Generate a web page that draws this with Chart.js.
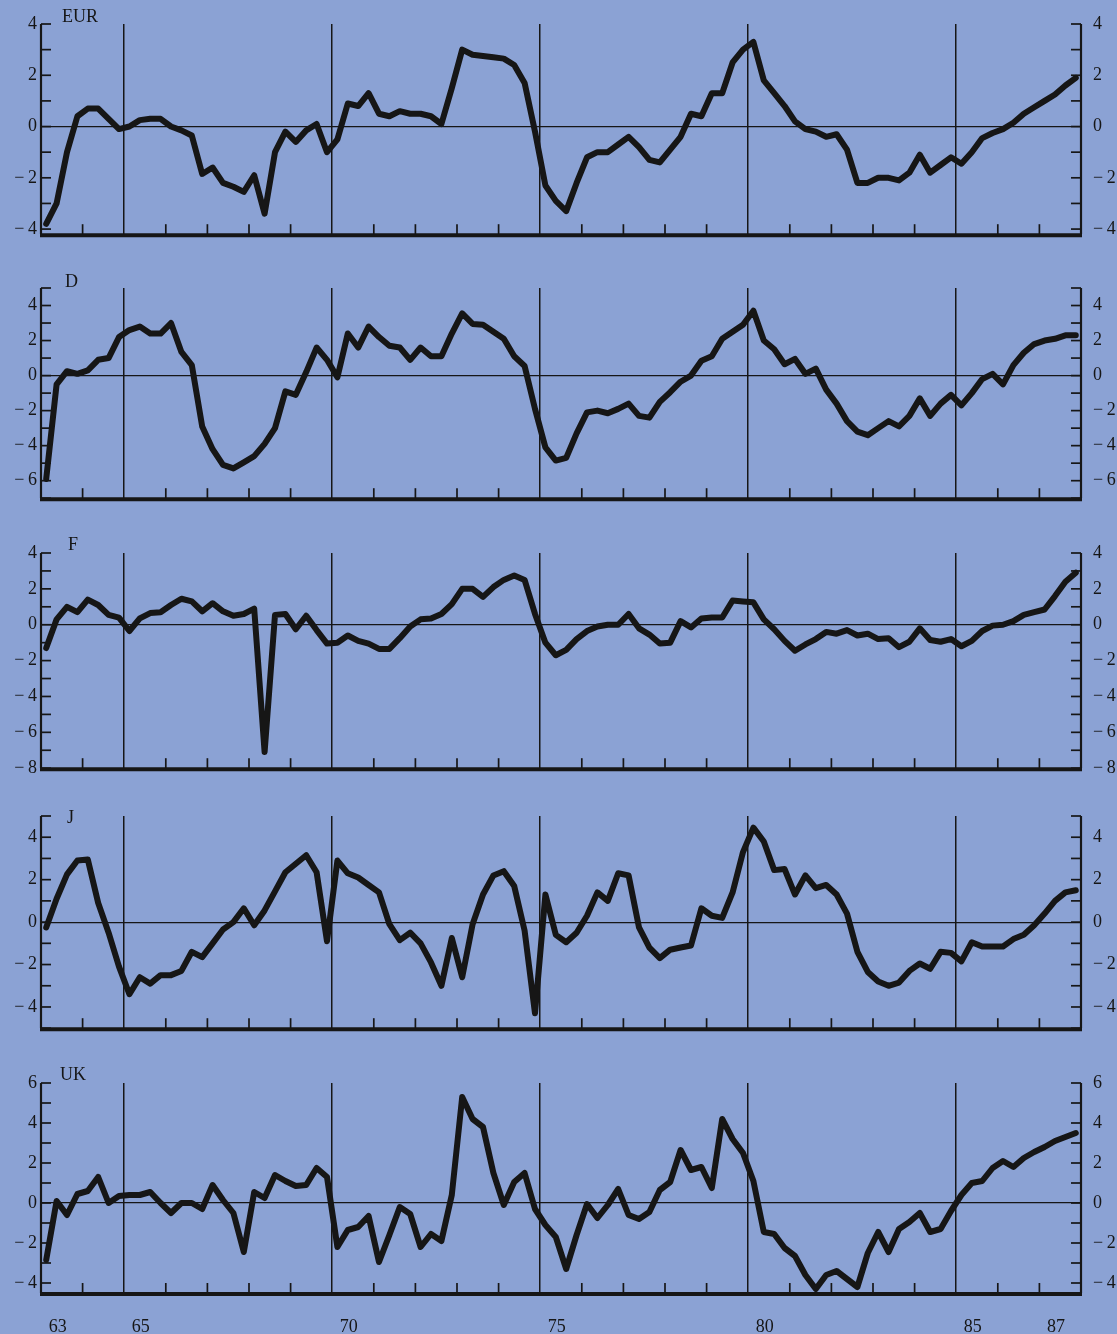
<!DOCTYPE html>
<html>
<head>
<meta charset="utf-8">
<script src="https://cdn.jsdelivr.net/npm/chart.js@4.4.0/dist/chart.umd.min.js"></script>
<style>
  html, body { margin: 0; padding: 0; background: #8ba2d4; }
  #wrap { position: relative; width: 1117px; height: 1334px; overflow: hidden; }
  canvas { position: absolute; left: 0; }
</style>
</head>
<body>
<div id="wrap"></div>
<script>
// quarterly values, 1963 Q1 .. 1987 Q4
const startYear = 63;
const endYear = 88;
const majorYears = [65, 70, 75, 80, 85];
const xLabelYears = [63, 65, 70, 75, 80, 85, 87];
const xLabels = ['63', '65', '70', '75', '80', '85', '87'];

const eur = [
  -3.8, -3.0, -1.0, 0.4, 0.7, 0.7, 0.3, -0.1, 0.0, 0.25,
  0.3, 0.3, 0.0, -0.15, -0.35, -1.85, -1.6, -2.2, -2.35, -2.55,
  -1.9, -3.4, -1.0, -0.2, -0.6, -0.15, 0.1, -1.0, -0.5, 0.9,
  0.8, 1.3, 0.5, 0.4, 0.6, 0.5, 0.5, 0.4, 0.1, 1.5,
  3.0, 2.8, 2.75, 2.7, 2.65, 2.4, 1.7, -0.2, -2.3, -2.9,
  -3.3, -2.2, -1.2, -1.0, -1.0, -0.7, -0.4, -0.8, -1.3, -1.4,
  -0.9, -0.4, 0.5, 0.4, 1.3, 1.3, 2.5, 3.0, 3.3, 1.8,
  1.3, 0.8, 0.2, -0.1, -0.2, -0.4, -0.3, -0.9, -2.2, -2.2,
  -2.0, -2.0, -2.1, -1.8, -1.1, -1.8, -1.5, -1.2, -1.45, -1.0,
  -0.45, -0.25, -0.1, 0.15, 0.5, 0.75, 1.0, 1.25, 1.6, 1.9
];
const germany = [
  -5.9, -0.5, 0.25, 0.1, 0.3, 0.9, 1.0, 2.2, 2.6, 2.8,
  2.4, 2.4, 3.0, 1.35, 0.6, -2.9, -4.2, -5.1, -5.3, -4.95,
  -4.6, -3.9, -3.0, -0.9, -1.1, 0.2, 1.6, 0.9, -0.1, 2.4,
  1.6, 2.8, 2.2, 1.7, 1.6, 0.9, 1.6, 1.1, 1.1, 2.4,
  3.55, 2.95, 2.9, 2.5, 2.1, 1.1, 0.55, -1.9, -4.1, -4.85,
  -4.7, -3.3, -2.1, -2.0, -2.15, -1.9, -1.6, -2.3, -2.4, -1.5,
  -0.95, -0.35, 0.0, 0.85, 1.1, 2.1, 2.5, 2.9, 3.7, 2.0,
  1.5, 0.65, 0.95, 0.1, 0.4, -0.8, -1.6, -2.6, -3.2, -3.4,
  -3.0, -2.6, -2.9, -2.3, -1.3, -2.3, -1.6, -1.1, -1.7, -1.0,
  -0.2, 0.1, -0.5, 0.6, 1.3, 1.8, 2.0, 2.1, 2.3, 2.3
];
const france = [
  -1.3, 0.3, 1.0, 0.7, 1.4, 1.1, 0.55, 0.4, -0.35, 0.35,
  0.65, 0.7, 1.1, 1.45, 1.3, 0.75, 1.2, 0.75, 0.5, 0.6,
  0.9, -7.1, 0.55, 0.6, -0.25, 0.5, -0.3, -1.05, -1.0, -0.6,
  -0.9, -1.05, -1.35, -1.35, -0.75, -0.1, 0.3, 0.35, 0.6, 1.15,
  2.0, 2.0, 1.55, 2.1, 2.5, 2.75, 2.5, 0.6, -1.0, -1.7,
  -1.4, -0.8, -0.35, -0.1, 0.0, 0.0, 0.6, -0.2, -0.55, -1.05,
  -1.0, 0.2, -0.15, 0.35, 0.4, 0.4, 1.35, 1.3, 1.25, 0.3,
  -0.25, -0.9, -1.45, -1.1, -0.8, -0.4, -0.5, -0.3, -0.6, -0.5,
  -0.8, -0.75, -1.25, -0.95, -0.2, -0.85, -0.95, -0.8, -1.2, -0.9,
  -0.35, -0.05, 0.0, 0.2, 0.55, 0.7, 0.85, 1.6, 2.4, 2.9
];
const japan = [
  -0.25, 1.1, 2.25, 2.9, 2.95, 0.9, -0.5, -2.1, -3.4, -2.6,
  -2.9, -2.5, -2.5, -2.3, -1.4, -1.65, -1.0, -0.35, 0.0, 0.65,
  -0.15, 0.55, 1.45, 2.35, 2.75, 3.15, 2.35, -0.9, 2.9, 2.3,
  2.1, 1.75, 1.4, -0.1, -0.85, -0.5, -1.0, -1.9, -3.0, -0.75,
  -2.6, -0.1, 1.3, 2.2, 2.4, 1.7, -0.4, -4.3, 1.3, -0.6,
  -0.95, -0.5, 0.3, 1.4, 1.0, 2.3, 2.2, -0.25, -1.2, -1.7,
  -1.3, -1.2, -1.1, 0.65, 0.3, 0.2, 1.4, 3.3, 4.45, 3.8,
  2.45, 2.5, 1.3, 2.2, 1.6, 1.75, 1.3, 0.4, -1.4, -2.35,
  -2.8, -3.0, -2.85, -2.3, -1.95, -2.2, -1.4, -1.45, -1.85, -0.95,
  -1.15, -1.15, -1.15, -0.8, -0.6, -0.15, 0.4, 1.0, 1.4, 1.5
];
const uk = [
  -2.85, 0.1, -0.6, 0.45, 0.6, 1.3, 0.0, 0.35, 0.4, 0.4,
  0.55, 0.0, -0.5, 0.0, 0.0, -0.3, 0.9, 0.15, -0.5, -2.45,
  0.55, 0.25, 1.4, 1.1, 0.85, 0.9, 1.75, 1.3, -2.2, -1.35,
  -1.2, -0.65, -2.95, -1.6, -0.2, -0.55, -2.2, -1.55, -1.9, 0.4,
  5.3, 4.2, 3.8, 1.5, -0.1, 1.05, 1.5, -0.3, -1.1, -1.7,
  -3.3, -1.6, -0.05, -0.75, -0.1, 0.7, -0.6, -0.8, -0.45, 0.65,
  1.05, 2.65, 1.65, 1.8, 0.75, 4.2, 3.2, 2.5, 1.1, -1.45,
  -1.55, -2.25, -2.65, -3.6, -4.3, -3.6, -3.4, -3.8, -4.2, -2.5,
  -1.45, -2.45, -1.3, -0.95, -0.5, -1.45, -1.3, -0.4, 0.4, 1.0,
  1.1, 1.75, 2.1, 1.8, 2.25, 2.55, 2.8, 3.1, 3.3, 3.5
];

const eurTicks = [-4, -2, 0, 2, 4];
const germanyTicks = [-6, -4, -2, 0, 2, 4];
const franceTicks = [-8, -6, -4, -2, 0, 2, 4];
const japanTicks = [-4, -2, 0, 2, 4];
const ukTicks = [-4, -2, 0, 2, 4, 6];

const ink = '#161616';
const serif = '"Liberation Serif", "DejaVu Serif", serif';

const panels = [
  { name: 'EUR', values: eur, ticks: eurTicks, min: -4.2, max: 4, top: 24, bottom: 243, titleX: 62, titleDy: -2 },
  { name: 'D', values: germany, ticks: germanyTicks, min: -7, max: 5, top: 288, bottom: 507, titleX: 65, titleDy: -1 },
  { name: 'F', values: france, ticks: franceTicks, min: -8, max: 4, top: 553, bottom: 777, titleX: 68, titleDy: -3 },
  { name: 'J', values: japan, ticks: japanTicks, min: -5, max: 5, top: 816, bottom: 1037, titleX: 67, titleDy: 7 },
  { name: 'UK', values: uk, ticks: ukTicks, min: -4.5, max: 6, top: 1083, bottom: 1293, titleX: 60, titleDy: -3, last: true }
];

function fmt(v) {
  return v < 0 ? '\u2212\u2009' + Math.abs(v) : String(v);
}

// axis lines, inside tick marks and the panel name
const frame = {
  id: 'frame',
  afterDatasetsDraw(chart, args, opts) {
    const { ctx, chartArea: a, scales } = chart;
    const x = scales.x, y = scales.y;
    const seg = (x1, y1, x2, y2) => { ctx.beginPath(); ctx.moveTo(x1, y1); ctx.lineTo(x2, y2); ctx.stroke(); };
    ctx.save();
    ctx.strokeStyle = ink;
    ctx.lineWidth = 2.2;
    seg(a.left, a.top, a.left, a.bottom);
    seg(a.right, a.top, a.right, a.bottom);
    ctx.lineWidth = 1.7;
    for (let v = Math.ceil(y.min); v <= Math.floor(y.max); v++) {
      const py = y.getPixelForValue(v);
      seg(a.left, py, a.left + 10, py);
      seg(a.right - 10, py, a.right, py);
    }
    for (let yr = startYear + 1; yr < endYear; yr++) {
      if (majorYears.includes(yr)) continue;
      const px = x.getPixelForValue(yr);
      seg(px, a.bottom, px, a.bottom - 10);
    }
    ctx.lineWidth = 4;
    seg(a.left - 1, a.bottom + 1, a.right + 1, a.bottom + 1);
    ctx.fillStyle = ink;
    ctx.font = '18px ' + serif;
    ctx.textBaseline = 'alphabetic';
    ctx.fillText(opts.title, opts.titleX, a.top + opts.titleDy);
    ctx.restore();
  }
};

const wrap = document.getElementById('wrap');
const padTop = 24;

panels.forEach((p) => {
  const padBottom = p.last ? 41 : 6;
  const canvas = document.createElement('canvas');
  canvas.width = 1117;
  canvas.height = (p.bottom - p.top) + padTop + padBottom;
  canvas.style.top = (p.top - padTop) + 'px';
  wrap.appendChild(canvas);

  const points = p.values.map((v, i) => ({ x: startYear + i * 0.25 + 0.125, y: v }));
  const tickFont = { family: serif, size: 18 };

  const scales = {
    x: {
      type: 'linear', min: startYear, max: endYear, weight: 0,
      afterBuildTicks: (s) => { s.ticks = majorYears.map((v) => ({ value: v })); },
      afterFit: (s) => { s.height = 0; },
      ticks: { display: false },
      grid: { color: ink, lineWidth: 1.5, drawTicks: false },
      border: { display: false }
    },
    y: {
      type: 'linear', position: 'left', min: p.min, max: p.max,
      afterBuildTicks: (s) => { s.ticks = p.ticks.map((v) => ({ value: v })); },
      afterFit: (s) => { s.width = 41; },
      ticks: { color: ink, font: tickFont, padding: 4, callback: fmt },
      grid: {
        drawTicks: false, lineWidth: 1.2,
        color: (c) => (c.tick && c.tick.value === 0 ? ink : 'rgba(0,0,0,0)')
      },
      border: { display: false }
    },
    y2: {
      type: 'linear', position: 'right', min: p.min, max: p.max,
      afterBuildTicks: (s) => { s.ticks = p.ticks.map((v) => ({ value: v })); },
      afterFit: (s) => { s.width = 36; },
      ticks: { color: ink, font: tickFont, padding: 4, callback: fmt },
      grid: { display: false },
      border: { display: false }
    }
  };

  if (p.last) {
    scales.x2 = {
      type: 'linear', position: 'bottom', min: startYear, max: endYear, weight: 1,
      afterBuildTicks: (s) => { s.ticks = xLabelYears.map((v) => ({ value: v + 0.4 })); },
      afterFit: (s) => { s.height = 41; },
      ticks: {
        color: ink, font: tickFont, padding: 15, autoSkip: false, maxRotation: 0,
        callback: (v, i) => xLabels[i]
      },
      grid: { display: false },
      border: { display: false }
    };
  }

  new Chart(canvas.getContext('2d'), {
    type: 'line',
    data: {
      datasets: [
        {
          label: p.name,
          data: points,
          borderColor: ink,
          borderWidth: 6,
          borderJoinStyle: 'round',
          borderCapStyle: 'round',
          pointRadius: 0,
          tension: 0,
          fill: false
        }
      ]
    },
    options: {
      responsive: false,
      animation: false,
      devicePixelRatio: 1,
      layout: { padding: { top: padTop, bottom: p.last ? 0 : padBottom, left: 0, right: 0 } },
      scales: scales,
      plugins: {
        legend: { display: false },
        tooltip: { enabled: false },
        frame: { title: p.name, titleX: p.titleX, titleDy: p.titleDy }
      }
    },
    plugins: [frame]
  });
});
</script>
</body>
</html>
